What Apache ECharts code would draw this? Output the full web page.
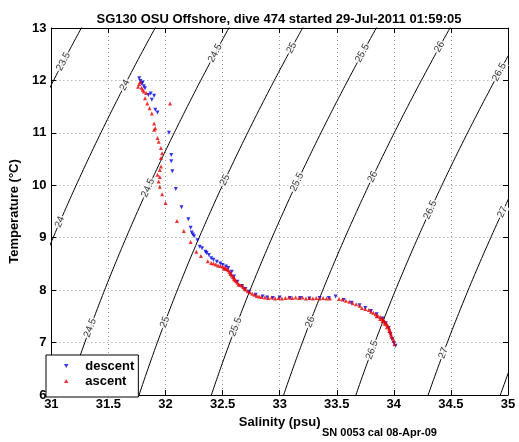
<!DOCTYPE html>
<html><head><meta charset="utf-8">
<script src="https://cdn.jsdelivr.net/npm/echarts@6/dist/echarts.min.js"></script>
<style>html,body{margin:0;padding:0;background:#fff}#c{width:519px;height:442px}</style>
</head><body><div id="c"></div>
<script>
const titleText = 'SG130 OSU Offshore, dive 474 started 29-Jul-2011 01:59:05';
const xName = 'Salinity (psu)';
const yName = 'Temperature (\u00B0C)';
const footerText = 'SN 0053 cal 08-Apr-09';
const salMin = 31, salMax = 35, salStep = 0.5;
const tempMin = 6, tempMax = 13, tempStep = 1;

// density contour levels (sigma) and where their labels sit (level, temperature)
const sigmaLevels = [23.5, 24, 24.5, 25, 25.5, 26, 26.5, 27, 27.5];
const labelLevels = [23.5, 24, 24, 24.5, 24.5, 24.5, 25, 25, 25, 25.5, 25.5, 25.5, 26, 26, 26, 26.5, 26.5, 26.5, 27, 27];
const labelTemps  = [12.36, 11.91, 9.3, 12.52, 9.95, 7.28, 12.62, 10.1, 7.39, 12.52, 10.06, 7.3, 12.64, 10.16, 7.39, 12.16, 9.53, 6.86, 9.49, 6.8];

const descentSal = [31.77,31.78,31.79,31.80,31.81,31.82,31.85,31.87,31.90,31.88,31.91,31.93,32.03,32.05,32.05,32.06,32.09,32.14,32.20,32.22,32.23,32.24,32.25,32.28,32.30,32.32,32.35,32.36,32.38,32.40,32.42,32.45,32.48,32.50,32.53,32.55,32.58,32.60,32.63,32.67,32.70,32.73,32.79,32.85,32.89,32.94,33.00,33.09,33.18,33.26,33.35,33.43,33.49,33.56,33.63,33.70,33.75,33.80,33.85,33.90,33.93,33.955,33.97,33.985,34.00,34.015];
const descentTemp = [12.04,11.99,11.94,11.96,11.89,11.85,11.72,11.75,11.71,11.63,11.44,11.39,11.00,10.58,10.46,10.27,9.93,9.58,9.35,9.19,9.10,9.06,9.03,8.95,8.83,8.80,8.73,8.71,8.67,8.61,8.58,8.54,8.51,8.48,8.45,8.42,8.35,8.26,8.16,8.08,8.02,7.97,7.91,7.88,7.86,7.85,7.86,7.85,7.85,7.84,7.85,7.85,7.88,7.81,7.76,7.71,7.66,7.60,7.54,7.46,7.37,7.28,7.16,7.07,6.99,6.94];

const ascentSal = [31.76,31.77,31.78,31.79,31.80,31.81,31.83,31.82,31.84,32.04,31.86,31.88,31.90,31.91,31.90,31.93,31.94,31.96,31.97,31.96,31.96,31.95,31.93,31.95,31.94,31.95,31.97,32.00,32.10,32.16,32.22,32.27,32.31,32.37,
 32.40,32.42,32.44,32.46,32.48,32.50,32.52,32.53,32.55,32.56,32.57,32.58,32.59,32.60,32.61,32.62,32.63,32.64,32.65,32.67,32.68,32.69,32.70,32.72,32.74,32.76,32.78,32.80,32.82,32.84,32.87,32.90,32.93,32.96,32.99,33.02,33.05,33.08,33.11,33.14,33.17,33.20,33.23,33.26,33.29,33.32,33.35,33.38,33.41,33.44,
 33.52,33.55,33.58,33.61,33.64,33.67,33.70,33.72,33.75,33.78,33.80,33.82,33.84,33.86,33.88,33.90,33.91,33.92,33.93,33.94,33.95,33.96,33.965,33.97,33.975,33.98,33.99,34.00,34.005,
 32.51,32.54,32.57,32.60,33.85,33.88,33.90,33.92,33.94,33.96];
const ascentTemp = [11.88,11.93,11.97,11.86,11.82,11.79,11.76,11.66,11.56,11.56,11.47,11.37,11.18,11.09,11.06,10.90,10.83,10.71,10.61,10.52,10.36,10.29,10.20,10.16,10.07,9.97,9.83,9.66,9.32,9.13,8.92,8.73,8.65,8.55,
 8.52,8.51,8.49,8.47,8.46,8.45,8.43,8.41,8.38,8.35,8.31,8.28,8.25,8.21,8.19,8.17,8.14,8.11,8.10,8.09,8.06,8.03,8.01,7.98,7.96,7.93,7.91,7.89,7.88,7.87,7.86,7.85,7.86,7.84,7.85,7.84,7.85,7.86,7.85,7.86,7.85,7.86,7.84,7.85,7.84,7.85,7.84,7.85,7.84,7.84,
 7.83,7.82,7.80,7.78,7.75,7.73,7.70,7.66,7.64,7.62,7.59,7.57,7.54,7.51,7.49,7.46,7.43,7.40,7.37,7.34,7.31,7.27,7.23,7.19,7.15,7.11,7.08,7.03,6.97,
 8.41,8.40,8.33,8.24,7.50,7.45,7.41,7.36,7.29,7.22];

// UNESCO EOS-80 density at zero pressure
function dens0(S, T) {
  const rw = 999.842594 + 6.793952e-2*T - 9.095290e-3*T*T + 1.001685e-4*T**3 - 1.120083e-6*T**4 + 6.536332e-9*T**5;
  const A = 0.824493 - 4.0899e-3*T + 7.6438e-5*T*T - 8.2467e-7*T**3 + 5.3875e-9*T**4;
  const B = -5.72466e-3 + 1.0227e-4*T - 1.6546e-6*T*T;
  const C = 4.8314e-4;
  return rw + A*S + B*Math.pow(S, 1.5) + C*S*S;
}
function salForSigma(sig, T) {
  let S = 33;
  for (let i = 0; i < 30; i++) {
    const f = dens0(S, T) - 1000 - sig;
    const d = (dens0(S + 0.001, T) - dens0(S - 0.001, T)) / 0.002;
    S -= f / d;
  }
  return S;
}

const FONT = "'Liberation Sans', Arial, Helvetica, sans-serif";
const chart = echarts.init(document.getElementById('c'), null, {renderer: 'canvas'});

const contourSeries = sigmaLevels.map(lv => {
  const pts = [];
  for (let t = tempMin - 0.2; t <= tempMax + 0.2 + 1e-9; t += 0.05) pts.push([salForSigma(lv, t), t]);
  return {
    type: 'line', name: 'c' + lv, data: pts, showSymbol: false, symbol: 'none', silent: true,
    lineStyle: {color: '#000', width: 1}, clip: true, z: 2, animation: false
  };
});

function labelData(rot) {
  return labelLevels.map((lv, i) => ({
    value: [salForSigma(lv, labelTemps[i]), labelTemps[i]],
    label: {rotate: rot ? rot[i] : 0, formatter: String(lv)}
  }));
}

const grid = {left: 41, right: 11, top: 28, bottom: 47, containLabel: false};
const axisCommon = {
  axisLine: {show: true, lineStyle: {color: '#000', width: 1}},
  axisTick: {show: true, inside: true, length: 5, lineStyle: {color: '#000'}},
};

const option = {
  backgroundColor: '#fff',
  animation: false,
  title: {text: titleText, left: 274, textAlign: 'center', top: 8,
    textStyle: {fontFamily: FONT, fontWeight: 'bold', fontSize: 13, color: '#000'}},
  graphic: [{type: 'text', left: 322, top: 427,
    style: {text: footerText, fontFamily: FONT, fontWeight: 'bold', fontSize: 11, fill: '#000'}}],
  legend: {
    data: ['descent', 'ascent'], orient: 'vertical', left: 46, top: 355,
    backgroundColor: '#fff', borderColor: '#000', borderWidth: 1, borderRadius: 0,
    padding: [4, 4, 9, 18], itemGap: 1, itemWidth: 28, itemHeight: 4,
    textStyle: {fontFamily: FONT, fontWeight: 'bold', fontSize: 13, color: '#000', lineHeight: 14}
  },
  grid: grid,
  xAxis: [
    Object.assign({type: 'value', min: salMin, max: salMax, interval: salStep, position: 'bottom',
      name: xName, nameLocation: 'middle', nameGap: 20,
      nameTextStyle: {fontFamily: FONT, fontWeight: 'bold', fontSize: 13, color: '#000'},
      axisLabel: {fontFamily: FONT, fontWeight: 'bold', fontSize: 13, color: '#000', margin: 3},
      splitLine: {show: true, lineStyle: {color: '#999', type: [1, 3], width: 1}}}, axisCommon),
    Object.assign({type: 'value', min: salMin, max: salMax, interval: salStep, position: 'top',
      axisLabel: {show: false}, splitLine: {show: false}}, axisCommon)
  ],
  yAxis: [
    Object.assign({type: 'value', min: tempMin, max: tempMax, interval: tempStep, position: 'left',
      name: yName, nameLocation: 'middle', nameGap: 23,
      nameTextStyle: {fontFamily: FONT, fontWeight: 'bold', fontSize: 13, color: '#000'},
      axisLabel: {fontFamily: FONT, fontWeight: 'bold', fontSize: 13, color: '#000', margin: 5},
      splitLine: {show: true, lineStyle: {color: '#999', type: [1, 3], width: 1}}}, axisCommon),
    Object.assign({type: 'value', min: tempMin, max: tempMax, interval: tempStep, position: 'right',
      axisLabel: {show: false}, splitLine: {show: false}}, axisCommon)
  ],
  series: contourSeries.concat([
    {type: 'scatter', name: 'labels', data: labelData(null), symbol: 'circle', symbolSize: 1, silent: true,
      itemStyle: {color: 'rgba(0,0,0,0)'}, z: 3,
      label: {show: true, position: 'inside', color: '#000', fontFamily: FONT, fontSize: 10,
        backgroundColor: '#fff', padding: [0, 1]}},
    {type: 'scatter', name: 'descent', data: descentSal.map((s, i) => [s, descentTemp[i]]),
      symbol: 'path://M0,0 L10,0 L5,9 Z', symbolSize: 4, itemStyle: {color: '#0000e6'}, z: 4},
    {type: 'scatter', name: 'ascent', data: ascentSal.map((s, i) => [s, ascentTemp[i]]),
      symbol: 'path://M5,0 L10,9 L0,9 Z', symbolSize: 4, itemStyle: {color: '#e60000'}, z: 5}
  ])
};
chart.setOption(option);

// rotate contour labels along the local direction of their isopycnal
const rots = labelLevels.map((lv, i) => {
  const t = labelTemps[i];
  const p1 = chart.convertToPixel({xAxisIndex: 0, yAxisIndex: 0}, [salForSigma(lv, t - 0.1), t - 0.1]);
  const p2 = chart.convertToPixel({xAxisIndex: 0, yAxisIndex: 0}, [salForSigma(lv, t + 0.1), t + 0.1]);
  return Math.atan2(p1[1] - p2[1], p2[0] - p1[0]) * 180 / Math.PI;
});
chart.setOption({series: [{name: 'labels', data: labelData(rots)}]});
</script>
</body></html>
